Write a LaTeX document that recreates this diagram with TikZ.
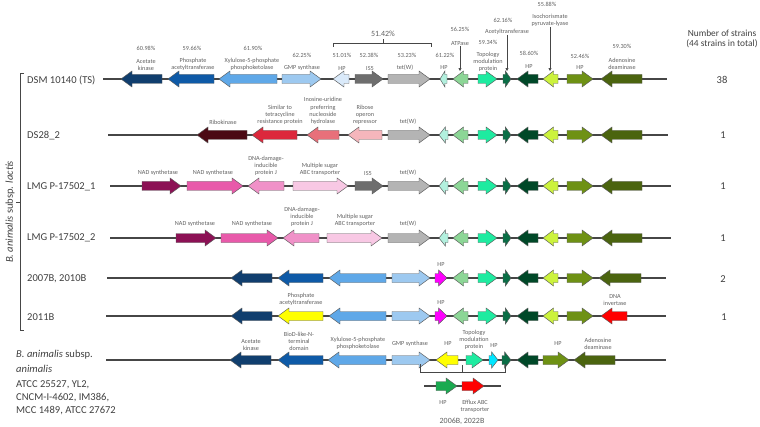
\documentclass[tikz,border=0pt]{standalone}
\usepackage{fontspec}
\setmainfont{Carlito}
\usepackage{tikz}
\usetikzlibrary{arrows.meta}

% gene colours
\definecolor{navy}{RGB}{16,62,110}
\definecolor{midblue}{RGB}{14,90,167}
\definecolor{lightblue}{RGB}{95,168,232}
\definecolor{paleblue}{RGB}{157,201,240}
\definecolor{hpblue}{RGB}{218,234,250}
\definecolor{isgray}{RGB}{110,110,110}
\definecolor{tetgray}{RGB}{180,180,180}
\definecolor{minthp}{RGB}{178,240,222}
\definecolor{atpgreen}{RGB}{140,214,150}
\definecolor{topogreen}{RGB}{30,235,160}
\definecolor{acetgreen}{RGB}{10,110,70}
\definecolor{hpdark}{RGB}{0,72,40}
\definecolor{isoyellow}{RGB}{204,242,60}
\definecolor{hpolive}{RGB}{110,145,20}
\definecolor{adenolive}{RGB}{75,100,15}
\definecolor{ribomaroon}{RGB}{75,10,20}
\definecolor{tetred}{RGB}{220,40,60}
\definecolor{inosred}{RGB}{232,112,122}
\definecolor{ribopink}{RGB}{245,182,188}
\definecolor{nadmaroon}{RGB}{140,17,85}
\definecolor{nadpink}{RGB}{232,90,170}
\definecolor{dnapink}{RGB}{240,145,200}
\definecolor{sugarpink}{RGB}{248,200,228}
\definecolor{magentahp}{RGB}{255,0,255}
\definecolor{yellowpta}{RGB}{255,255,0}
\definecolor{invred}{RGB}{255,0,0}
\definecolor{cyanhp}{RGB}{0,230,255}
\definecolor{hpgreen}{RGB}{26,170,80}
% text and line colours
\definecolor{labelgray}{RGB}{96,96,96}
\definecolor{namegray}{RGB}{64,64,64}
\definecolor{linegray}{RGB}{70,70,70}
\definecolor{genegray}{RGB}{90,90,90}

\tikzset{
  gene/.style={draw=genegray, line width=0.4pt},
  backbone/.style={draw=linegray, line width=1.1pt},
  lbl/.style={font=\fontsize{5.3}{6.2}\selectfont, text=labelgray,
    align=center, inner sep=0pt, anchor=south},
  strain/.style={font=\fontsize{9}{11}\selectfont, text=namegray,
    inner sep=0pt},
  pointer/.style={draw=linegray, line width=0.5pt,
    -{Triangle[length=2.5pt,width=2.5pt]}},
  brace/.style={draw=linegray, line width=0.6pt}
}

% gene arrow: tail x, tip x, row y, fill
\newcommand{\gene}[4]{%
  \pgfmathsetmacro\genebase{#2-ifthenelse(#2>#1,1,-1)*min(11,0.7*abs(#2-#1))}%
  \filldraw[gene,fill=#4] (#1,#3-4.5) -- (\genebase,#3-4.5) -- (\genebase,#3-8)
    -- (#2,#3) -- (\genebase,#3+8) -- (\genebase,#3+4.5) -- (#1,#3+4.5) -- cycle;}

% the genes shared by the lactis strains
\newcommand{\greentail}[1]{%
  \gene{468}{453}{#1}{atpgreen}
  \gene{478}{497}{#1}{topogreen}
  \gene{503}{511}{#1}{acetgreen}
  \gene{538}{517}{#1}{hpdark}
  \gene{558}{543}{#1}{isoyellow}
  \gene{567}{593}{#1}{hpolive}}

\begin{document}
\begin{tikzpicture}[x=0.03cm, y=-0.03cm]
  \useasboundingbox (0,0) rectangle (760,427);

  % strain names
  \node[strain, anchor=west] (dsm) at (27,80) {DSM 10140 (TS)};
  \node[strain, anchor=west] (ds28) at (27,136) {DS28\_2};
  \node[strain, anchor=west] (lmga) at (27,187) {LMG P-17502\_1};
  \node[strain, anchor=west] (lmgb) at (27,238) {LMG P-17502\_2};
  \node[strain, anchor=west] (s2007) at (27,279) {2007B, 2010B};
  \node[strain, anchor=west] (s2011) at (27,317) {2011B};
  \node[strain, anchor=west] (anim) at (16,355) {\textit{B. animalis} subsp.};
  \node[strain, anchor=west] (animb) at (16,369) {\textit{animalis}};
  \node[strain, anchor=west] (atcc) at (16,385) {ATCC 25527, YL2,};
  \node[strain, anchor=west] (cncm) at (16,398) {CNCM-I-4602, IM386,};
  \node[strain, anchor=west] (mcc) at (16,411) {MCC 1489, ATCC 27672};
  \node[strain, rotate=90] (lactis) at (10,212) {\textit{B. animalis} subsp. \textit{lactis}};
  \draw[brace] (24,73) -- (20,73) -- (20,330) -- (24,330);
  \draw[brace] (20,202) -- (16,202);

  % number of strains
  \node[strain, font=\fontsize{8}{8.5}\selectfont, align=center] (nhead) at (722,39)
    {Number of strains\\(44 strains in total)};
  \node[strain] (n1) at (722,80) {38};
  \node[strain] (n2) at (723,135) {1};
  \node[strain] (n3) at (723,186) {1};
  \node[strain] (n4) at (723,238) {1};
  \node[strain] (n5) at (723,279) {2};
  \node[strain] (n6) at (724,317) {1};

  % backbones
  \draw[backbone] (103,79) -- (667,79);
  \draw[backbone] (108,135) -- (668,135);
  \draw[backbone] (110,186) -- (671,186);
  \draw[backbone] (110,238) -- (671,238);
  \draw[backbone] (107,278) -- (666,278);
  \draw[backbone] (106,316) -- (666,316);
  \draw[backbone] (106,360) -- (666,360);
  \draw[backbone] (424,386) -- (501,386);

  % DSM 10140 (TS)
  \gene{162}{121}{79}{navy}
  \gene{214}{168}{79}{midblue}
  \gene{277}{219}{79}{lightblue}
  \gene{282}{321}{79}{paleblue}
  \gene{349}{333}{79}{hpblue}
  \gene{355}{383}{79}{isgray}
  \gene{388}{430}{79}{tetgray}
  \gene{447}{440}{79}{minthp}
  \greentail{79}
  \gene{642}{601}{79}{adenolive}

  \node[lbl] (pak) at (146,51) {60.98\%};
  \node[lbl] (ak) at (146,71) {Acetate\\kinase};
  \node[lbl] (ppta) at (192,51) {59.66\%};
  \node[lbl] (pta) at (193,71) {Phosphate\\acetyltransferase};
  \node[lbl] (pxpk) at (253,51) {61.90\%};
  \node[lbl] (xpk) at (252,71) {Xylulose-5-phosphate\\phosphoketolase};
  \node[lbl] (pgmp) at (302,58) {62.25\%};
  \node[lbl] (gmp) at (302,71) {GMP synthase};
  \node[lbl] (phpa) at (342,58) {51.01\%};
  \node[lbl] (hpa) at (342,71) {HP};
  \node[lbl] (pis) at (369,58) {52.38\%};
  \node[lbl] (is) at (370,71) {IS5};
  \node[lbl] (ptet) at (407,58) {53.23\%};
  \node[lbl] (tet) at (405,71) {tet(W)};
  \node[lbl] (phpb) at (445,58) {61.22\%};
  \node[lbl] (hpb) at (444,70) {HP};
  \node[lbl] (patp) at (460,32) {56.25\%};
  \node[lbl] (atp) at (460,46) {ATPase};
  \node[lbl] (ptopo) at (488,45) {59.34\%};
  \node[lbl] (topo) at (488,72) {Topology\\modulation\\protein};
  \node[lbl] (pacet) at (503,23) {62.16\%};
  \node[lbl] (acet) at (507,35) {Acetyltransferase};
  \node[lbl] (phpc) at (529,56) {58.60\%};
  \node[lbl] (hpc) at (529,69) {HP};
  \node[lbl] (piso) at (547,7) {55.88\%};
  \node[lbl] (iso) at (550,27) {Isochorismate\\pyruvate-lyase};
  \node[lbl] (phpd) at (580,59) {52.46\%};
  \node[lbl] (hpd) at (580,70) {HP};
  \node[lbl] (pade) at (622,49) {59.30\%};
  \node[lbl] (ade) at (622,70) {Adenosine\\deaminase};

  \coordinate (atptip) at (460,71);
  \coordinate (acettip) at (507,71);
  \coordinate (isotip) at (550,71);
  \draw[pointer] (atp.south) -- (atptip);
  \draw[pointer] (acet.south -| acettip) -- (acettip);
  \draw[pointer] (iso.south) -- (isotip);

  % bracket over HP, IS5 and tet(W)
  \draw[brace] (333,47) -- (333,43) -- (431,43) -- (431,47);
  \draw[brace] (383,43) -- (383,39);
  \node[lbl, font=\fontsize{6.8}{8}\selectfont] (pbr) at (383,37) {51.42\%};

  % DS28_2
  \gene{247}{197}{135}{ribomaroon}
  \gene{297}{252}{135}{tetred}
  \gene{339}{307}{135}{inosred}
  \gene{382}{348}{135}{ribopink}
  \gene{388}{430}{135}{tetgray}
  \gene{448}{439}{135}{minthp}
  \greentail{135}
  \gene{642}{601}{135}{adenolive}

  \node[lbl] (rbk) at (223,125) {Ribokinase};
  \node[lbl] (sim) at (280,125) {Similar to\\tetracycline\\resistance protein};
  \node[lbl] (ino) at (323,125) {Inosine-uridine\\preferring\\nucleoside\\hydrolase};
  \node[lbl] (rbs) at (365,125) {Ribose\\operon\\repressor};
  \node[lbl] (tetb) at (408,125) {tet(W)};

  % LMG P-17502_1
  \gene{142}{181}{186}{nadmaroon}
  \gene{187}{243}{186}{nadpink}
  \gene{284}{248}{186}{dnapink}
  \gene{293}{348}{186}{sugarpink}
  \gene{355}{383}{186}{isgray}
  \gene{388}{430}{186}{tetgray}
  \gene{448}{439}{186}{minthp}
  \greentail{186}
  \gene{642}{601}{186}{adenolive}

  \node[lbl] (nada) at (158,176) {NAD synthetase};
  \node[lbl] (nadb) at (213,176) {NAD synthetase};
  \node[lbl] (dnaa) at (266,176) {DNA-damage-\\inducible\\protein J};
  \node[lbl] (suga) at (320,176) {Multiple sugar\\ABC transporter};
  \node[lbl] (isb) at (368,176) {IS5};
  \node[lbl] (tetc) at (408,176) {tet(W)};

  % LMG P-17502_2
  \gene{176}{216}{238}{nadmaroon}
  \gene{221}{278}{238}{nadpink}
  \gene{319}{283}{238}{dnapink}
  \gene{327}{382}{238}{sugarpink}
  \gene{388}{430}{238}{tetgray}
  \gene{448}{439}{238}{minthp}
  \greentail{238}
  \gene{642}{601}{238}{adenolive}

  \node[lbl] (nadc) at (195,227) {NAD synthetase};
  \node[lbl] (nadd) at (252,227) {NAD synthetase};
  \node[lbl] (dnab) at (302,227) {DNA-damage-\\inducible\\protein J};
  \node[lbl] (sugb) at (355,227) {Multiple sugar\\ABC transporter};
  \node[lbl] (tetd) at (408,227) {tet(W)};

  % 2007B, 2010B
  \gene{272}{231}{278}{navy}
  \gene{323}{278}{278}{midblue}
  \gene{386}{329}{278}{lightblue}
  \gene{392}{430}{278}{paleblue}
  \gene{435}{447}{278}{magentahp}
  \greentail{278}
  \gene{641}{599}{278}{adenolive}

  \node[lbl] (hpe) at (441,267) {HP};

  % 2011B
  \gene{272}{231}{316}{navy}
  \gene{323}{278}{316}{yellowpta}
  \gene{386}{329}{316}{lightblue}
  \gene{392}{430}{316}{paleblue}
  \gene{435}{447}{316}{magentahp}
  \greentail{316}
  \gene{627}{601}{316}{invred}

  \node[lbl] (ptab) at (301,306) {Phosphate\\acetyltransferase};
  \node[lbl] (hpf) at (441,305) {HP};
  \node[lbl] (inv) at (615,306) {DNA\\invertase};

  % B. animalis subsp. animalis
  \gene{271}{230}{360}{navy}
  \gene{323}{278}{360}{midblue}
  \gene{386}{328}{360}{lightblue}
  \gene{392}{430}{360}{paleblue}
  \gene{458}{436}{360}{yellowpta}
  \gene{466}{483}{360}{topogreen}
  \gene{489}{498}{360}{cyanhp}
  \gene{502}{511}{360}{acetgreen}
  \gene{538}{517}{360}{hpdark}
  \gene{543}{569}{360}{hpolive}
  \gene{615}{574}{360}{adenolive}

  \node[lbl] (akb) at (251,351) {Acetate\\kinase};
  \node[lbl] (biod) at (299,351) {BioD-like-N-\\terminal\\domain};
  \node[lbl] (xpkb) at (358,350) {Xylulose-5-phosphate\\phosphoketolase};
  \node[lbl] (gmpb) at (410,347) {GMP synthase};
  \node[lbl] (hpg) at (448,346) {HP};
  \node[lbl] (topob) at (474,350) {Topology\\modulation\\protein};
  \node[lbl] (hph) at (494,348) {HP};
  \node[lbl] (hpi) at (558,346) {HP};
  \node[lbl] (adeb) at (598,350) {Adenosine\\deaminase};

  % variant of 2006B, 2022B
  \draw[brace] (420,364) -- (420,372) -- (505,372) -- (505,364);
  \draw[brace] (462,372) -- (462,365);
  \gene{436}{457}{386}{hpgreen}
  \gene{462}{484}{386}{invred}
  \node[lbl] (hpj) at (443,405) {HP};
  \node[lbl] (efx) at (475,413) {Efflux ABC\\transporter};
  \node[lbl, font=\fontsize{6.8}{8}\selectfont] (var) at (462,425) {2006B, 2022B};
\end{tikzpicture}
\end{document}
